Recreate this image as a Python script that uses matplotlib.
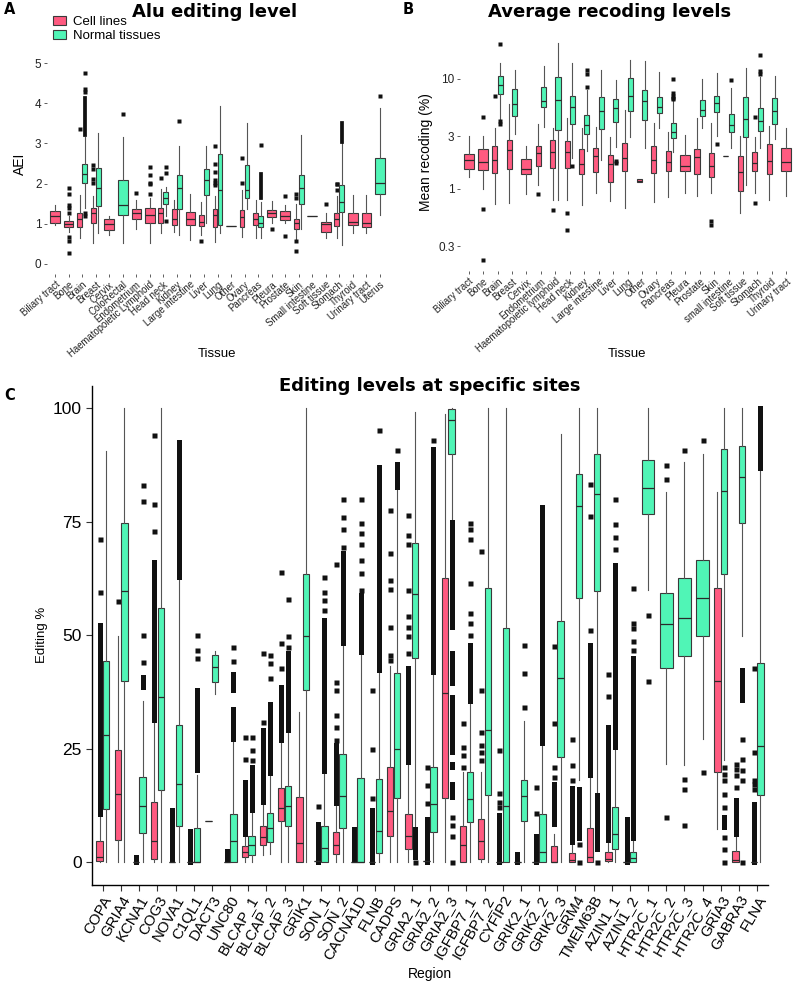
import matplotlib
matplotlib.use("Agg")
import matplotlib.pyplot as plt
from matplotlib.patches import Patch

PINK = "#FF5A80"
GREEN = "#50F5B6"

# ---------------- panel A: Alu editing index per tissue ----------------
a_tissues = ["Biliary tract", "Bone", "Brain", "Breast", "Cervix", "ColoRectal",
             "Endometrium", "Haematopoietic Lymphoid", "Head neck", "Kidney",
             "Large intestine", "Liver", "Lung", "Other", "Ovary", "Pancreas",
             "Pleura", "Prostate", "Skin", "Small intestine", "Soft tissue",
             "Stomach", "Thyroid", "Urinary tract", "Uterus"]
# (q1, median, q3, whisker low, whisker high); None = no samples in that group
a_cell_box = [(1.01, 1.19, 1.32, 0.97, 1.46), (0.91, 1.0, 1.07, 0.80, 1.20),
              (0.91, 1.13, 1.28, 0.64, 1.71), (1.01, 1.26, 1.40, 0.51, 1.70),
              (0.84, 0.99, 1.11, 0.72, 1.19), None,
              (1.11, 1.27, 1.36, 0.86, 1.59), (1.01, 1.21, 1.40, 0.51, 1.65),
              (1.01, 1.26, 1.40, 0.76, 1.86), (0.97, 1.13, 1.36, 0.80, 1.59),
              (0.97, 1.13, 1.30, 0.60, 1.75), (0.94, 1.05, 1.21, 0.72, 1.55),
              (0.93, 1.21, 1.38, 0.55, 1.70), (0.94, 0.94, 0.94, 0.94, 0.94),
              (0.93, 1.17, 1.34, 0.66, 1.85), (0.97, 1.11, 1.26, 0.64, 1.59),
              (1.16, 1.27, 1.34, 1.01, 1.57), (1.09, 1.20, 1.31, 1.01, 1.46),
              (0.88, 1.02, 1.11, 0.60, 1.50), None,
              (0.80, 0.99, 1.05, 0.64, 1.26), (0.95, 1.11, 1.26, 0.64, 1.70),
              (0.97, 1.05, 1.28, 0.76, 1.71), (0.93, 1.01, 1.28, 0.76, 1.71), None]
a_normal_box = [None, None, (2.02, 2.24, 2.49, 1.40, 3.15), (1.44, 1.90, 2.39, 0.78, 3.25),
                None, (1.21, 1.46, 2.08, 0.51, 3.17), None, None,
                (1.50, 1.65, 1.79, 1.20, 1.92), (1.38, 1.88, 2.21, 0.72, 2.94), None,
                (1.71, 2.08, 2.37, 1.01, 2.93), (0.97, 1.83, 2.73, 0.76, 3.92), None,
                (1.63, 1.83, 2.47, 1.38, 3.50), (0.93, 1.02, 1.19, 0.64, 1.55), None, None,
                (1.50, 1.90, 2.22, 0.88, 3.21), (1.20, 1.20, 1.20, 1.20, 1.20), None,
                (1.30, 1.55, 1.96, 0.47, 3.00), None, None, (1.75, 2.02, 2.63, 1.21, 3.88)]
a_cell_fliers = {"Bone": [1.88, 1.75, 1.46, 1.40, 1.26, 0.66, 0.58, 0.28], "Brain": [3.35],
                 "Breast": [2.47, 2.37, 2.12, 2.02], "Endometrium": [1.76],
                 "Haematopoietic Lymphoid": [2.42, 2.21, 2.02, 1.98, 1.75], "Head neck": [2.13],
                 "Liver": [0.57], "Lung": [2.93, 2.50, 2.29, 2.10, 2.02, 1.96], "Ovary": [2.64, 2.02],
                 "Pleura": [0.86], "Prostate": [1.70, 0.69], "Skin": [1.73, 1.63, 0.57, 0.31],
                 "Soft tissue": [1.50], "Stomach": [2.0, 1.85, 1.98]}
a_normal_fliers = {"Brain": [4.75, 4.35, 4.28, 1.27, 1.20], "ColoRectal": [3.73],
                   "Head neck": [2.42, 2.27, 1.07], "Kidney": [3.56], "Pancreas": [2.96],
                   "Uterus": [4.17]}
a_cell_runs = {}
a_normal_runs = {"Brain": [(3.20, 4.12)], "Pancreas": [(1.65, 2.25)], "Stomach": [(3.04, 3.50)]}

# ---------------- panel B: mean recoding per tissue ----------------
b_tissues = ["Biliary tract", "Bone", "Brain", "Breast", "Cervix", "Endometrium",
             "Haematopoietic lymphoid", "Head neck", "Kidney", "Large intestine", "Liver",
             "Lung", "Other", "Ovary", "Pancreas", "Pleura", "Prostate", "Skin",
             "small intestine", "Soft tissue", "Stomach", "Thyroid", "Urinary tract"]
b_cell_box = [(1.51, 1.84, 2.07, 1.29, 3.03), (1.49, 1.75, 2.29, 1.0, 3.03),
              (1.39, 1.84, 2.43, 0.73, 3.61), (1.51, 2.26, 2.79, 0.75, 5.89),
              (1.36, 1.51, 1.87, 0.90, 2.43), (1.63, 2.11, 2.43, 1.09, 3.87),
              (1.54, 2.15, 2.79, 0.80, 3.56), (1.56, 2.15, 2.75, 0.80, 4.39),
              (1.36, 1.69, 2.31, 0.72, 3.56), (1.42, 1.97, 2.34, 0.92, 3.68),
              (1.15, 1.69, 2.04, 0.77, 2.99), (1.46, 1.90, 2.60, 0.67, 5.23),
              (1.15, 1.19, 1.23, 1.15, 1.23), (1.39, 1.84, 2.46, 0.76, 3.96),
              (1.45, 1.75, 2.20, 0.85, 3.30), (1.44, 1.62, 2.04, 0.92, 3.10),
              (1.36, 1.93, 2.29, 0.86, 4.39), (1.29, 1.63, 2.11, 0.92, 3.96),
              (2.01, 2.01, 2.01, 2.01, 2.01), (0.95, 1.42, 1.97, 0.60, 3.03),
              (1.44, 1.71, 2.15, 0.92, 2.99), (1.37, 1.80, 2.57, 0.80, 3.74),
              (1.44, 1.75, 2.34, 0.86, 3.56)]
b_normal_box = [None, None, (7.26, 8.82, 10.6, 4.24, 14.0), (4.61, 5.93, 8.05, 3.14, 12.1),
                None, (5.60, 6.31, 8.40, 3.63, 13.2), (3.44, 6.43, 10.4, 0.80, 21.1),
                (3.87, 5.53, 7.00, 1.90, 13.9), (3.16, 3.82, 4.71, 2.21, 7.9),
                (3.49, 5.05, 6.81, 1.83, 11.9), (4.03, 5.41, 6.58, 2.42, 9.8),
                (5.12, 7.00, 10.1, 2.99, 14.7), (4.24, 6.22, 7.94, 2.37, 14.4),
                (4.88, 5.60, 6.90, 3.61, 11.6), (2.89, 3.32, 3.95, 2.18, 6.4), None,
                (4.61, 5.23, 6.45, 3.56, 9.9), (4.98, 6.00, 7.05, 3.00, 11.3),
                (3.27, 3.82, 4.80, 2.37, 8.2), (2.95, 4.33, 6.77, 1.09, 12.5),
                (3.39, 4.15, 5.41, 2.34, 10.4), (3.87, 5.05, 6.67, 2.83, 10.5), None]
b_cell_fliers = {"Bone": [4.48, 0.66, 0.225], "Brain": [7.05], "Endometrium": [0.90],
                 "Haematopoietic lymphoid": [0.64], "Head neck": [0.61, 0.42],
                 "Skin": [0.51, 0.47], "Stomach": [4.54, 0.75]}
b_normal_fliers = {"Brain": [20.8, 4.1, 3.9], "Head neck": [1.62], "Kidney": [11.9, 11.1, 8.5],
                   "Liver": [1.80, 1.71], "Pancreas": [10.0, 7.4, 7.0, 6.7, 6.5], "Skin": [2.55],
                   "small intestine": [9.8], "Stomach": [16.5, 11.7, 11.1]}

# ---------------- panel C: editing levels at specific sites ----------------
c_sites = ["COPA", "GRIA4", "KCNA1", "COG3", "NOVA1", "C1QL1", "DACT3", "UNC80",
           "BLCAP_1", "BLCAP_2", "BLCAP_3", "GRIK1", "SON_1", "SON_2", "CACNA1D", "FLNB",
           "CADPS", "GRIA2_1", "GRIA2_2", "GRIA2_3", "IGFBP7_1", "IGFBP7_2", "CYFIP2",
           "GRIK2_1", "GRIK2_2", "GRIK2_3", "GRM4", "TMEM63B", "AZIN1_1", "AZIN1_2",
           "HTR2C_1", "HTR2C_2", "HTR2C_3", "HTR2C_4", "GRIA3", "GABRA3", "FLNA"]
c_cell_box = [(0.2, 1.2, 4.6, 0, 10.5), (5.0, 15.1, 24.7, 0, 49.8), (0, 0, 0, 0, 0),
              (0.7, 4.6, 13.2, 0, 31.4), (0, 0, 0, 0, 0), (0, 0, 0, 0, 0), (9.0, 9.0, 9.0, 9.0, 9.0),
              (0, 0, 0, 0, 0), (1.2, 2.3, 3.5, 0, 6.3), (3.9, 5.6, 7.9, 1.5, 13.3),
              (9.1, 12.0, 16.4, 0, 26.9), (0, 4.3, 14.4, 0, 33.1), (0.2, 0.2, 0.2, 0.2, 0.2),
              (1.9, 3.9, 6.7, 0, 13.1), (0, 0, 0, 0, 0), (0, 0, 0, 0, 0),
              (5.9, 11.2, 20.9, 0, 43.2), (3.0, 5.9, 10.7, 0, 22.1), (0.3, 0.3, 0.3, 0.3, 0.3),
              (14.2, 37.2, 62.5, 0, 98.8), (0, 3.7, 8.1, 0, 19.9), (0.8, 4.7, 9.6, 0, 19.9),
              (0, 0, 0, 0, 0), (0, 0, 0, 0, 0), (0, 0, 0, 0, 0), (0, 0, 3.5, 0, 6.3),
              (0, 0.4, 2.1, 0, 4.5), (0, 1.2, 7.6, 0, 19.2), (0.3, 0.8, 2.3, 0, 4.8),
              (0, 0, 0, 0, 0), None, None, None, None, (19.9, 39.9, 60.3, 7.4, 81.6),
              (0, 0.4, 2.5, 0, 6.3), (0, 0, 0, 0, 0)]
c_normal_box = [(11.8, 28.1, 44.3, 0, 90.6), (39.9, 59.8, 74.7, 0, 100), (6.5, 12.4, 18.8, 0, 35.5),
                (15.9, 36.3, 56.0, 0, 100), (8.1, 17.3, 30.3, 0, 62.8), (0, 0, 7.6, 0, 19.2),
                (39.6, 43.0, 45.6, 37.0, 46.5), (0, 4.6, 10.7, 0, 26.9), (1.5, 3.7, 5.8, 0, 11.5),
                (4.5, 7.6, 10.9, 1.9, 19.7), (8.1, 12.3, 16.7, 0, 29.1), (38.0, 49.8, 63.4, 0, 100),
                (0, 3.2, 8.1, 0, 20.0), (7.6, 14.5, 23.9, 0, 48.2), (0, 0, 18.6, 0, 46.3),
                (2.1, 7.0, 18.4, 0, 42.3), (14.2, 24.9, 41.6, 0, 81.9), (45.1, 59.0, 70.3, 7.7, 99.2),
                (6.7, 12.9, 20.9, 0, 41.9), (89.9, 97.4, 99.9, 75.0, 100), (8.9, 14.0, 19.9, 0, 35.5),
                (14.9, 29.1, 60.3, 0, 100), (0, 12.4, 51.7, 0, 100), (9.0, 14.5, 18.2, 0, 31.1),
                (0, 2.3, 10.7, 0, 26.3), (23.2, 40.5, 53.2, 0, 94.3), (58.1, 78.5, 85.6, 18.1, 100),
                (59.8, 81.0, 89.9, 15.1, 100), (3.0, 6.3, 12.2, 0, 25.4), (0, 1.0, 2.3, 0, 5.4),
                (76.8, 82.5, 88.7, 59.9, 100), (42.7, 52.4, 59.2, 21.6, 81.6),
                (45.4, 53.9, 62.7, 21.4, 88.2), (49.9, 58.1, 66.5, 27.2, 89.9),
                (63.4, 81.7, 91.1, 22.5, 100), (74.7, 84.9, 91.6, 49.8, 100), (14.8, 25.6, 43.8, 0, 86.9)]
c_cell_fliers = {"COPA": [59.5, 71.1], "GRIA4": [57.5], "COG3": [73.0, 78.8, 94.1],
                 "BLCAP_1": [22.7, 27.6], "BLCAP_2": [30.9, 46.0], "BLCAP_3": [42.7, 48.2, 64.0],
                 "SON_1": [12.4], "SON_2": [26.9, 29.8, 32.4, 37.9, 39.7, 65.8],
                 "FLNB": [14.2, 25.0, 38.0], "CADPS": [45.6, 44.5, 51.8, 60.1, 62.1, 68.2, 77.5],
                 "GRIA2_1": [46.1, 49.8, 51.8, 54.3, 59.9, 70.0, 72.0, 76.4],
                 "GRIA2_2": [13.1, 17.1, 21.0], "IGFBP7_1": [21.0, 23.6, 25.4, 30.7],
                 "IGFBP7_2": [22.5, 24.2, 25.8, 28.7, 38.0, 68.5], "CYFIP2": [12.2, 13.3, 15.3, 24.8],
                 "GRIK2_2": [10.9, 16.6], "GRIK2_3": [18.8, 21.0, 30.7, 47.6],
                 "GRM4": [18.1, 21.4, 27.2], "TMEM63B": [51.2, 76.2, 83.2], "AZIN1_1": [36.6, 41.4],
                 "GABRA3": [16.6, 19.2, 20.5, 21.7], "FLNA": [16.2, 17.2, 18.1, 24.3, 42.7]}
c_normal_fliers = {"KCNA1": [50.0, 44.0, 83.0, 79.6], "C1QL1": [50.0, 46.8, 44.9],
                   "UNC80": [47.4, 44.3], "BLCAP_1": [24.8, 22.5, 27.6], "BLCAP_2": [40.5, 43.8, 45.6],
                   "BLCAP_3": [47.4, 49.8, 57.9], "SON_1": [55.5, 57.7, 59.5, 62.8],
                   "SON_2": [69.5, 73.3, 76.1, 79.9],
                   "CACNA1D": [59.9, 63.6, 66.5, 70.2, 72.5, 74.7, 79.9], "FLNB": [95.3],
                   "CADPS": [90.7], "GRIA2_1": [0], "GRIA2_2": [93.1], "GRIA2_3": [10.0, 8.2, 5.9, 0],
                   "IGFBP7_1": [50.0, 52.6, 54.8, 61.4, 71.3, 73.5, 74.7],
                   "GRIK2_1": [34.2, 41.7, 47.9], "GRM4": [4.1, 0], "TMEM63B": [0],
                   "AZIN1_1": [69.1, 71.7, 74.4, 79.9], "AZIN1_2": [46.8, 48.7, 51.5, 52.6, 60.3],
                   "HTR2C_1": [54.4, 39.9], "HTR2C_2": [87.4, 84.5, 10.0],
                   "HTR2C_3": [90.9, 18.4, 16.2, 8.3], "HTR2C_4": [93.1, 19.9],
                   "GRIA3": [21.0, 19.5, 18.1, 15.1, 12.2, 5.6, 3.0, 0],
                   "GABRA3": [27.2, 22.8, 20.3, 18.1, 0]}
# stretches where outliers are packed so tight they form a solid column (low, high)
c_cell_runs = {"COPA": [(10.7, 52.2)], "KCNA1": [(0, 1.2)], "COG3": [(31.4, 66.2)],
               "NOVA1": [(0.5, 11.6)], "C1QL1": [(0, 7.0)], "UNC80": [(0.7, 2.5)],
               "BLCAP_1": [(6.3, 17.7)], "BLCAP_2": [(13.3, 29.1)], "BLCAP_3": [(26.9, 38.6)],
               "SON_1": [(0, 8.5)], "SON_2": [(13.1, 25.8)], "CACNA1D": [(0.8, 4.1), (5.2, 7.4)],
               "FLNB": [(0, 11.6)], "GRIA2_1": [(22.1, 42.7)], "GRIA2_2": [(0, 9.6)],
               "CYFIP2": [(0, 10.4)], "GRIK2_1": [(0, 1.9)], "GRIK2_2": [(0, 5.9)],
               "GRIK2_3": [(8.5, 17.3)], "GRM4": [(4.5, 16.4)], "TMEM63B": [(19.2, 47.8)],
               "AZIN1_1": [(4.8, 29.8)], "AZIN1_2": [(0, 9.6)], "GABRA3": [(6.3, 13.7)],
               "FLNA": [(0, 12.9)]}
c_normal_runs = {"KCNA1": [(38.6, 40.8)], "NOVA1": [(62.8, 92.5)], "C1QL1": [(20.3, 37.9)],
                 "UNC80": [(27.2, 33.8), (37.9, 41.5)], "BLCAP_1": [(11.5, 21.0)],
                 "BLCAP_2": [(19.7, 34.9)], "BLCAP_3": [(29.1, 46.0)], "SON_1": [(20.0, 53.3)],
                 "SON_2": [(48.2, 68.1)], "CACNA1D": [(46.3, 58.8)], "FLNB": [(42.3, 87.1)],
                 "CADPS": [(82.7, 87.8)], "GRIA2_1": [(1.2, 7.4)], "GRIA2_2": [(41.9, 91.1)],
                 "GRIA2_3": [(51.8, 75.0), (39.4, 46.0), (24.3, 36.4), (21.0, 21.7), (14.4, 17.3)],
                 "IGFBP7_1": [(35.5, 47.8)], "GRIK2_2": [(26.3, 78.3)], "GRM4": [(5.4, 16.2)],
                 "TMEM63B": [(3.0, 14.8)], "AZIN1_1": [(25.4, 65.4)], "AZIN1_2": [(5.4, 44.9)],
                 "GRIA3": [(7.8, 10.0)], "GABRA3": [(35.7, 42.3)], "FLNA": [(86.9, 100)]}


def draw_boxes(ax, cats, cell_box, normal_box, cell_fl, normal_fl, cell_runs, normal_runs, ms):
    w = 0.74
    for i, cat in enumerate(cats):
        groups = [(cell_box[i], cell_fl, cell_runs, PINK), (normal_box[i], normal_fl, normal_runs, GREEN)]
        present = [g for g in groups if g[0] is not None]
        n = len(present)
        for k, (box, fl, runs, col) in enumerate(present):
            if n == 2:
                pos, bw = i + (k - 0.5) * w / 2, w / 2 * 0.95
            else:
                pos, bw = i, w * 0.95
            q1, med, q3, lo, hi = box
            stats = dict(q1=q1, med=med, q3=q3, whislo=lo, whishi=hi, fliers=fl.get(cat, []))
            ax.bxp([stats], positions=[pos], widths=[bw], patch_artist=True, showcaps=False,
                   manage_ticks=False,
                   boxprops=dict(facecolor=col, edgecolor="#3a3a3a", linewidth=0.8),
                   medianprops=dict(color="#2a2a2a", linewidth=0.9),
                   whiskerprops=dict(color="#555555", linewidth=0.8),
                   flierprops=dict(marker="s", markerfacecolor="#111111",
                                   markeredgecolor="none", markersize=ms))
            for lo_r, hi_r in runs.get(cat, []):
                ax.vlines(pos, lo_r, hi_r, colors="#111111", linewidth=ms, capstyle="projecting")


def style_top(ax, cats):
    for s in ax.spines.values():
        s.set_visible(False)
    ax.set_xticks(range(len(cats)))
    ax.set_xticklabels(cats, rotation=41, ha="right", va="top", rotation_mode="anchor", fontsize=6.9)
    ax.tick_params(length=2.5, width=0.6, color="#444444", labelcolor="#222222", labelsize=8.5, pad=1.5)
    ax.tick_params(axis="x", labelsize=6.9)
    ax.minorticks_off()


plt.rcParams["font.family"] = ["Liberation Sans", "DejaVu Sans"]
W, H = 793, 985
fig = plt.figure(figsize=(W / 100, H / 100), dpi=100)

# panel A
ax_a = fig.add_axes([47 / W, 1 - 274 / H, 341 / W, 221 / H])
draw_boxes(ax_a, a_tissues, a_cell_box, a_normal_box, a_cell_fliers, a_normal_fliers,
           a_cell_runs, a_normal_runs, 2.7)
ax_a.set_xlim(-0.6, len(a_tissues) - 0.4)
ax_a.set_ylim(-0.25, 5.25)
ax_a.set_yticks([0, 1, 2, 3, 4, 5])
style_top(ax_a, a_tissues)
ax_a.set_ylabel("AEI", fontsize=10, labelpad=6)
ax_a.set_xlabel("Tissue", fontsize=9.5)
ax_a.xaxis.set_label_coords(0.5, -0.335)

# panel B
ax_b = fig.add_axes([460 / W, 1 - 271 / H, 335 / W, 238 / H])
ax_b.set_yscale("log")
draw_boxes(ax_b, b_tissues, b_cell_box, b_normal_box, b_cell_fliers, b_normal_fliers, {}, {}, 2.7)
ax_b.set_xlim(-0.6, len(b_tissues) - 0.4)
ax_b.set_ylim(10 ** -0.746, 10 ** 1.416)
ax_b.set_yticks([0.3, 1, 3, 10])
ax_b.set_yticklabels(["0.3", "1", "3", "10"])
style_top(ax_b, b_tissues)
ax_b.set_ylabel("Mean recoding (%)", fontsize=10, labelpad=4)
ax_b.set_xlabel("Tissue", fontsize=9.5)
ax_b.xaxis.set_label_coords(0.5, -0.325)

# panel C
ax_c = fig.add_axes([92 / W, 1 - 885 / H, 676 / W, 499.5 / H])
draw_boxes(ax_c, c_sites, c_cell_box, c_normal_box, c_cell_fliers, c_normal_fliers,
           c_cell_runs, c_normal_runs, 3.6)
ax_c.set_xlim(-0.6, len(c_sites) - 0.4)
ax_c.set_ylim(-5, 105)
ax_c.set_yticks([0, 25, 50, 75, 100])
ax_c.set_xticks(range(len(c_sites)))
ax_c.set_xticklabels(c_sites, rotation=60, ha="right", va="top", rotation_mode="anchor", fontsize=10.8)
for s in ["top", "right"]:
    ax_c.spines[s].set_visible(False)
for s in ["left", "bottom"]:
    ax_c.spines[s].set_linewidth(1.0)
ax_c.tick_params(length=4, width=0.8, labelsize=12.5, color="#333333")
ax_c.tick_params(axis="x", labelsize=10.8, pad=2)
ax_c.set_ylabel("Editing %", fontsize=9.5)
ax_c.yaxis.set_label_coords(-0.065, 0.5)
ax_c.set_xlabel("Region", fontsize=10)
ax_c.xaxis.set_label_coords(0.5, -0.165)

# titles and panel letters
title_kw = dict(fontsize=13, fontweight="heavy", family="DejaVu Sans", ha="center", va="center")
fig.text(215 / W, 1 - 12 / H, "Alu editing level", **title_kw)
fig.text(610 / W, 1 - 12 / H, "Average recoding levels", **title_kw)
fig.text(430 / W, 1 - 386 / H, "Editing levels at specific sites", **title_kw)
letter_kw = dict(fontsize=10.5, fontweight="bold", family="DejaVu Sans", ha="left", va="center")
fig.text(4 / W, 1 - 10 / H, "A", **letter_kw)
fig.text(403 / W, 1 - 10 / H, "B", **letter_kw)
fig.text(4 / W, 1 - 396 / H, "C", **letter_kw)

handles = [Patch(facecolor=PINK, edgecolor="#3a3a3a", linewidth=0.8, label="Cell lines"),
           Patch(facecolor=GREEN, edgecolor="#3a3a3a", linewidth=0.8, label="Normal tissues")]
fig.legend(handles=handles, loc="upper left", bbox_to_anchor=(53 / W, 1 - 16 / H), frameon=False,
           fontsize=9.5, handlelength=1.0, handleheight=0.7, handletextpad=0.5,
           labelspacing=0.1, borderpad=0, borderaxespad=0)

fig.savefig("out.png", dpi=100)
